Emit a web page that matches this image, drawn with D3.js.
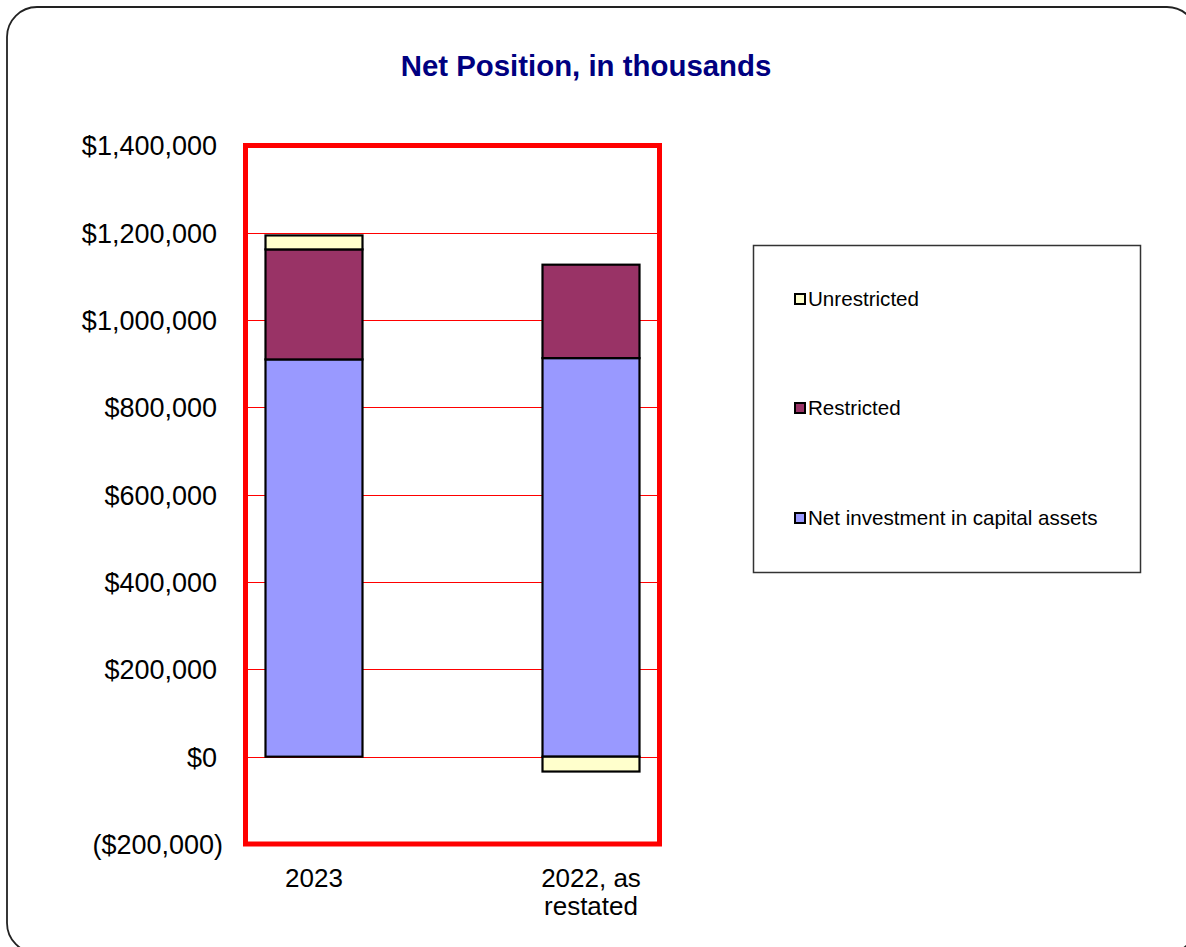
<!DOCTYPE html>
<html>
<head>
<meta charset="utf-8">
<script src="https://cdn.jsdelivr.net/npm/d3@7"></script>
<style>
  html, body { margin: 0; padding: 0; background: #fff; }
  svg { display: block; font-family: "Liberation Sans", Arial, sans-serif; }
</style>
</head>
<body>
<svg id="chart" width="1186" height="947"></svg>
<script>
// ---- data ----
const categories = ["2023", "2022, as restated"];
const categoryLines = [["2023"], ["2022, as", "restated"]];
const seriesNames = ["Net investment in capital assets", "Restricted", "Unrestricted"];
const netInvestment = [910000, 913000];
const restricted = [252000, 214000];
const unrestricted = [32000, -34000];
const seriesColors = ["#9999FF", "#993366", "#FFFFCC"];
const tickValues = [-200000, 0, 200000, 400000, 600000, 800000, 1000000, 1200000, 1400000];
const titleText = "Net Position, in thousands";

const svg = d3.select("#chart");

// outer rounded frame
svg.append("rect")
  .attr("x", 7).attr("y", 7).attr("width", 1190).attr("height", 946)
  .attr("rx", 30).attr("ry", 30)
  .attr("fill", "#fff").attr("stroke", "#222").attr("stroke-width", 1.8);

// title
svg.append("text")
  .attr("x", 586).attr("y", 76)
  .attr("text-anchor", "middle")
  .attr("font-size", 29.4).attr("font-weight", "bold")
  .attr("fill", "#000080")
  .text(titleText);

const plot = { left: 245.5, right: 659.5, top: 145.5, bottom: 844 };

const y = d3.scaleLinear().domain([-200000, 1400000]).range([plot.bottom, plot.top]);
const x = d3.scalePoint().domain(categories).range([314, 591]);
const barW = 97;

// gridlines
svg.append("g").selectAll("line")
  .data(tickValues.filter(v => v > -200000 && v < 1400000))
  .join("line")
  .attr("x1", plot.left).attr("x2", plot.right)
  .attr("y1", d => Math.round(y(d)) + 0.5).attr("y2", d => Math.round(y(d)) + 0.5)
  .attr("stroke", "#FF0000").attr("stroke-width", 1);

// stacked data (handle negatives by stacking separately)
const rows = categories.map((c, i) => ({
  cat: c,
  vals: [netInvestment[i], restricted[i], unrestricted[i]]
}));
const segs = [];
rows.forEach(r => {
  let pos = 0, neg = 0;
  r.vals.forEach((v, k) => {
    if (v >= 0) { segs.push({ cat: r.cat, k, y0: pos, y1: pos + v }); pos += v; }
    else { segs.push({ cat: r.cat, k, y0: neg + v, y1: neg }); neg += v; }
  });
});

svg.append("g").selectAll("rect")
  .data(segs)
  .join("rect")
  .attr("x", d => x(d.cat) - barW / 2)
  .attr("width", barW)
  .attr("y", d => y(d.y1))
  .attr("height", d => y(d.y0) - y(d.y1))
  .attr("fill", d => seriesColors[d.k])
  .attr("stroke", "#000").attr("stroke-width", 2.2);

// plot area border (thick red)
svg.append("rect")
  .attr("x", plot.left).attr("y", plot.top)
  .attr("width", plot.right - plot.left).attr("height", plot.bottom - plot.top)
  .attr("fill", "none").attr("stroke", "#FF0000").attr("stroke-width", 5);

// y axis labels
const fmt = v => {
  const s = "$" + d3.format(",")(Math.abs(v));
  return v < 0 ? "(" + s + ")" : s;
};
const yAxis = d3.axisLeft(y).tickValues(tickValues).tickFormat(fmt).tickSize(0).tickPadding(0);
const gy = svg.append("g").attr("transform", "translate(223,0)").call(yAxis);
gy.select(".domain").remove();
gy.selectAll("text")
  .attr("font-family", "Liberation Sans, Arial, sans-serif")
  .attr("font-size", 27).attr("fill", "#000")
  .attr("x", d => d < 0 ? 0 : -6)
  .attr("dy", "0.35em");

// x axis labels
const gx = svg.append("g");
categories.forEach((c, i) => {
  const t = gx.append("text")
    .attr("x", x(c)).attr("y", 887)
    .attr("text-anchor", "middle")
    .attr("font-size", 26).attr("fill", "#000");
  categoryLines[i].forEach((ln, j) => {
    t.append("tspan").attr("x", x(c)).attr("dy", j === 0 ? 0 : 28).text(ln);
  });
});

// legend
const lg = svg.append("g");
lg.append("rect")
  .attr("x", 753.5).attr("y", 245.5).attr("width", 387).attr("height", 327)
  .attr("fill", "#fff").attr("stroke", "#333").attr("stroke-width", 1.5);
const legendOrder = [2, 1, 0];
const legendY = [299, 408, 518];
legendOrder.forEach((k, i) => {
  lg.append("rect")
    .attr("x", 795).attr("y", legendY[i] - 5).attr("width", 10).attr("height", 10)
    .attr("fill", seriesColors[k]).attr("stroke", "#000").attr("stroke-width", 2);
  lg.append("text")
    .attr("x", 808).attr("y", legendY[i]).attr("dy", "0.35em")
    .attr("font-size", 20.6).attr("fill", "#000")
    .text(seriesNames[k]);
});
</script>
</body>
</html>
